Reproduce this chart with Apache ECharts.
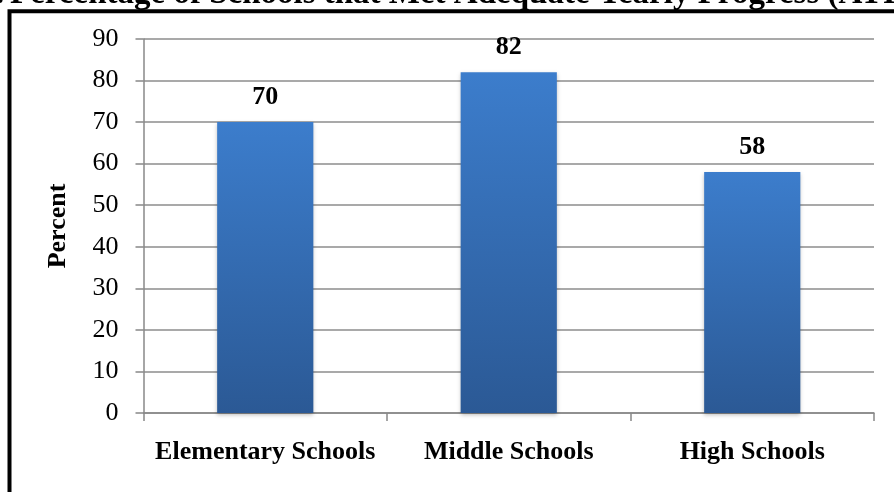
<!DOCTYPE html>
<html>
<head>
<meta charset="utf-8">
<script src="https://cdn.jsdelivr.net/npm/echarts@6/dist/echarts.min.js"></script>
<style>html,body{margin:0;padding:0;background:#fff}#c{width:894px;height:492px}</style>
</head>
<body>
<div id="c"></div>
<script>
const categories = ['Elementary Schools', 'Middle Schools', 'High Schools'];
const percentMet = [70, 82, 58];
const yTicks = [0, 10, 20, 30, 40, 50, 60, 70, 80, 90];

const SERIF = '"Liberation Serif", "Times New Roman", serif';
const chart = echarts.init(document.getElementById('c'));
chart.setOption({
  backgroundColor: '#ffffff',
  animation: false,
  grid: { left: 143.5, right: 20, top: 39, bottom: 79 },
  graphic: [
    { type: 'rect', shape: { x: 9.5, y: 11.3, width: 1000, height: 600 },
      style: { fill: 'none', stroke: '#000', lineWidth: 4 }, z: 0 },
    { type: 'text', x: 10, y: 11,
      style: { text: 'Percentage of Schools that Met Adequate Yearly Progress (AYP), 2010', font: 'bold 33px ' + SERIF,
               fill: '#000', textAlign: 'left', textVerticalAlign: 'bottom' } },
    { type: 'text', x: 4, y: 11,
      style: { text: 'Figure 1.', font: 'bold 33px ' + SERIF, fill: '#000',
               textAlign: 'right', textVerticalAlign: 'bottom' } }
  ],
  xAxis: {
    type: 'category',
    data: categories,
    axisLine: { lineStyle: { color: '#888', width: 1.5 } },
    axisTick: { show: true, length: 8, lineStyle: { color: '#888', width: 1.5 } },
    axisLabel: { interval: 0, color: '#000', fontFamily: SERIF, fontWeight: 'bold', fontSize: 26, margin: 26 }
  },
  yAxis: {
    type: 'value',
    min: yTicks[0], max: yTicks[yTicks.length - 1], interval: 10,
    name: 'Percent', nameLocation: 'middle', nameGap: 72, nameRotate: 90,
    nameTextStyle: { color: '#000', fontFamily: SERIF, fontWeight: 'bold', fontSize: 26 },
    axisLine: { show: true, lineStyle: { color: '#888', width: 1.5 } },
    axisTick: { show: true, length: 8, lineStyle: { color: '#888', width: 1.5 } },
    splitLine: { lineStyle: { color: '#8c8c8c', width: 1.5 } },
    axisLabel: { color: '#000', fontFamily: SERIF, fontSize: 26, margin: 25 }
  },
  series: [{
    type: 'bar',
    data: percentMet,
    barWidth: '39.5%',
    itemStyle: {
      color: new echarts.graphic.LinearGradient(0, 0, 0, 1, [
        { offset: 0, color: '#3c7dcc' },
        { offset: 1, color: '#2b5995' }
      ]),
      shadowColor: 'rgba(0,0,0,0.25)', shadowBlur: 4, shadowOffsetY: 2
    },
    label: { show: true, position: 'top', distance: 12, color: '#000',
             fontFamily: SERIF, fontWeight: 'bold', fontSize: 26 }
  }]
});
</script>
</body>
</html>
